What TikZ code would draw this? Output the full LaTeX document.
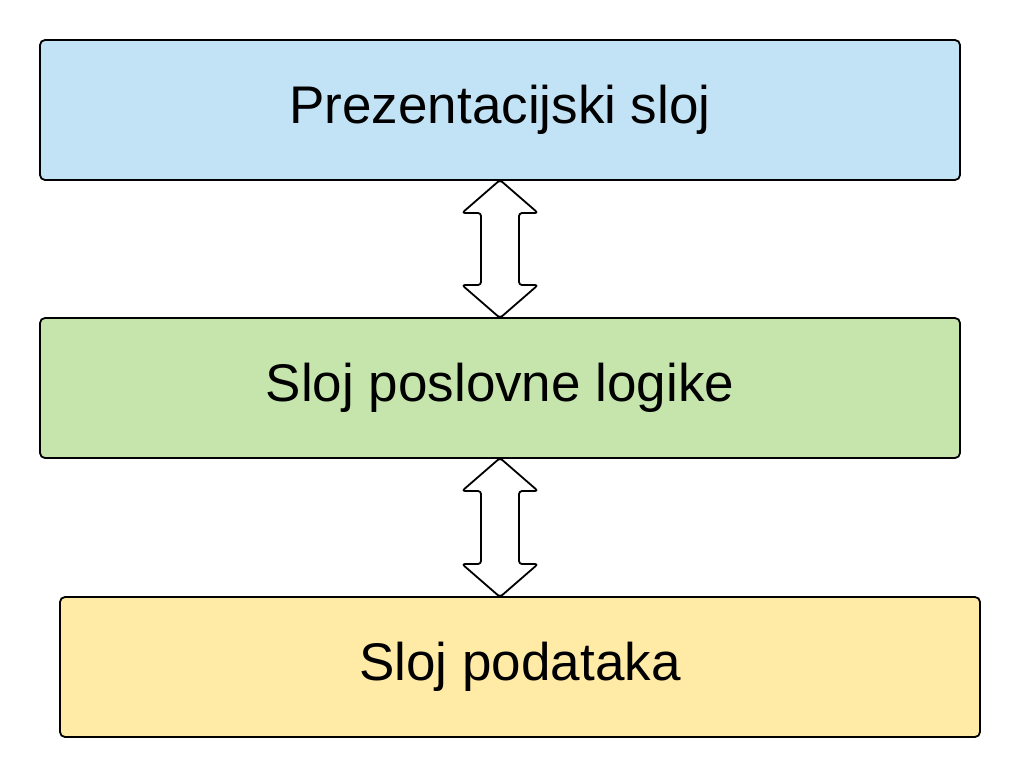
\documentclass[tikz,border=0pt]{standalone}
\usepackage{fontspec}
\setmainfont{Liberation Sans}
\usepackage{tikz}
\usetikzlibrary{positioning}
\definecolor{presblue}{RGB}{194,227,245}
\definecolor{logicgreen}{RGB}{197,229,172}
\definecolor{datayellow}{RGB}{255,234,166}
\tikzstyle{layer}=[rectangle, draw=black, line width=1.8pt, rounded corners=5pt, minimum width=920pt, minimum height=140pt, inner sep=0pt, outer sep=0pt, font=\fontsize{53}{60}\selectfont]
\tikzstyle{biarrow}=[draw=black, fill=white, line width=1.8pt, rounded corners=3pt, line join=round]

\begin{document}
\begin{tikzpicture}[x=1pt, y=-1pt]
          \useasboundingbox (0,0) rectangle (1020,777);
          \node[layer, fill=presblue] (pres) at (500,110) {Prezentacijski sloj};
          \node[layer, fill=logicgreen] (logic) [below=138pt of pres] {Sloj poslovne logike};
          \node[layer, fill=datayellow] (data) [below=139pt of logic, xshift=20pt] {Sloj podataka};

          % arrows between the layers
          \draw[biarrow] (pres.south) -- ++(38,33) -- ++(-19,0) -- ++(0,72) -- ++(19,0)
                -- (logic.north) -- ++(-38,-33) -- ++(19,0) -- ++(0,-72) -- ++(-19,0) -- cycle;
          \draw[biarrow] (logic.south) -- ++(38,33) -- ++(-19,0) -- ++(0,73) -- ++(19,0)
                -- (logic.south |- data.north) -- ++(-38,-33) -- ++(19,0) -- ++(0,-73) -- ++(-19,0) -- cycle;
\end{tikzpicture}
\end{document}
